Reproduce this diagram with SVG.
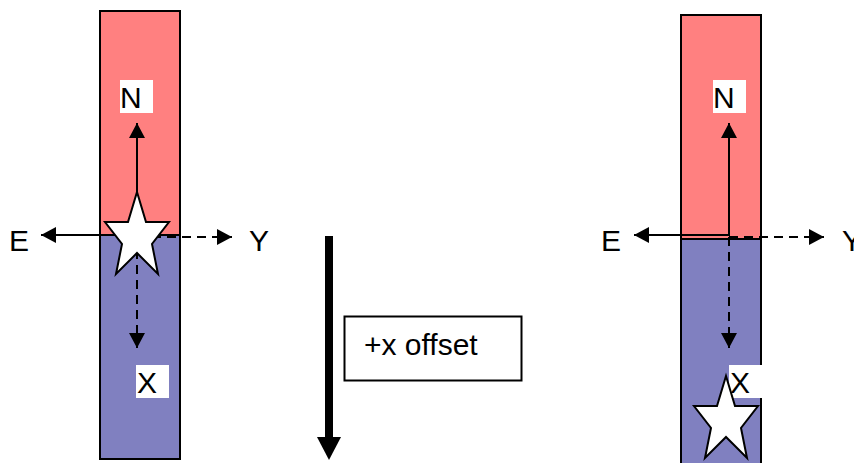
<svg xmlns="http://www.w3.org/2000/svg" width="854" height="463" viewBox="0 0 854 463">
<style>
.txt{font-family:"Liberation Sans",Arial,sans-serif;font-size:30px;fill:#000}
.north{fill:#FF8080;stroke:#000;stroke-width:2}
.south{fill:#8080C0;stroke:#000;stroke-width:2}
.lbl{fill:#fff;stroke:none}
.ln{stroke:#000;stroke-width:2;fill:none}
.dash{stroke-dasharray:9,6}
.star{fill:#fff;stroke:#000;stroke-width:2;stroke-linejoin:miter}
</style>
<defs>
<marker id="ah" markerUnits="userSpaceOnUse" markerWidth="16" markerHeight="16" refX="15" refY="8" orient="auto" viewBox="0 0 16 16">
<path d="M0,0 L15,8 L0,16 z" fill="#000"/>
</marker>
<path id="starShape" d="M0,0 L9,30 L32,30 L15,52 L21,82 L0,61 L-21,82 L-15,52 L-32,30 L-9,30 Z"/>
</defs>
<g id="magnet-left">
<rect class="north" x="100" y="11" width="80" height="224"/>
<rect class="south" x="100" y="235" width="80" height="224"/>
</g>
<g id="magnet-right">
<rect class="north" x="681" y="15" width="80" height="224"/>
<rect class="south" x="681" y="239" width="80" height="240"/>
</g>
<g id="connectors">
<line class="ln" x1="137" y1="235" x2="137" y2="123" marker-end="url(#ah)"/>
<line class="ln" x1="137" y1="235" x2="41" y2="235" marker-end="url(#ah)"/>
<line class="ln dash" x1="137" y1="237" x2="232" y2="237" marker-end="url(#ah)"/>
<line class="ln dash" x1="137" y1="235" x2="137" y2="348" marker-end="url(#ah)"/>
<line class="ln" x1="729" y1="236" x2="729" y2="123" marker-end="url(#ah)"/>
<line class="ln" x1="730" y1="235" x2="634" y2="235" marker-end="url(#ah)"/>
<line class="ln dash" x1="729" y1="237" x2="824" y2="237" marker-end="url(#ah)"/>
<line class="ln dash" x1="729" y1="237" x2="729" y2="348" marker-end="url(#ah)"/>
<rect x="325" y="236" width="8" height="202" fill="#000"/>
<polygon points="317,437 341,437 329,460" fill="#000"/>
</g>
<g id="label-N-left">
<rect class="lbl" x="120" y="80" width="33" height="33"/>
<text class="txt" x="120" y="108">N</text>
</g>
<g id="label-X-left">
<rect class="lbl" x="136" y="365" width="33" height="33"/>
<text class="txt" x="137" y="393">X</text>
</g>
<g id="label-E-left"><text class="txt" x="9" y="251">E</text></g>
<g id="label-Y-left"><text class="txt" x="249" y="251">Y</text></g>
<g id="label-N-right">
<rect class="lbl" x="713" y="80" width="33" height="33"/>
<text class="txt" x="713" y="108">N</text>
</g>
<g id="label-X-right">
<rect class="lbl" x="729" y="365" width="33" height="33"/>
</g>
<g id="label-E-right"><text class="txt" x="601" y="251">E</text></g>
<g id="label-Y-right"><text class="txt" x="842" y="251">Y</text></g>
<g id="star-left"><use href="#starShape" class="star" x="137" y="192"/></g>
<g id="star-right"><use href="#starShape" class="star" x="726" y="376"/></g>
<g id="label-X-right-text"><text class="txt" x="730" y="393">X</text></g>
<g id="offset-box">
<rect x="344.5" y="316.5" width="177" height="64" fill="#fff" stroke="#000" stroke-width="2"/>
<text class="txt" x="364" y="355">+x offset</text>
</g>
</svg>
